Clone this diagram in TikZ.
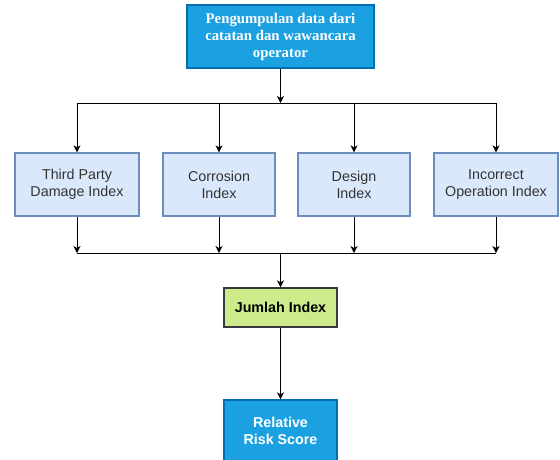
\documentclass[tikz,border=0pt]{standalone}
\usepackage{fontspec}
\setmainfont{Liberation Sans}
\newfontfamily\serifbold{Liberation Serif}
\usetikzlibrary{arrows.meta}
\definecolor{bluefill}{HTML}{1BA1E2}
\definecolor{bluedraw}{HTML}{006EAF}
\definecolor{lightfill}{HTML}{DAE8FC}
\definecolor{lightdraw}{HTML}{6C8EBF}
\definecolor{greenfill}{HTML}{CDEB8B}
\definecolor{greendraw}{HTML}{36393D}
\definecolor{txt}{HTML}{333333}
\begin{document}
\begin{tikzpicture}[x=1pt,y=-1pt,
  box/.style={draw, line width=1.3pt, inner sep=2pt, align=center, minimum height=63pt},
  topbox/.style={box, fill=bluefill, draw=bluedraw, text=white, font=\serifbold\bfseries\fontsize{14.8}{17}\selectfont, minimum width=187pt},
  idxbox/.style={box, fill=lightfill, draw=lightdraw, text=txt, font=\fontsize{14.3}{17}\selectfont},
  sumbox/.style={box, fill=greenfill, draw=greendraw, text=black, font=\bfseries\fontsize{14.3}{17}\selectfont, minimum width=113pt, minimum height=39pt},
  resbox/.style={box, fill=bluefill, draw=bluedraw, text=white, font=\bfseries\fontsize{14.3}{17}\selectfont, minimum width=113pt, minimum height=62pt},
  arr/.style={-{Stealth[length=7pt,width=7pt,inset=2pt]}, line width=0.9pt},
  ln/.style={line width=0.9pt}]
\useasboundingbox (0,0) rectangle (560,459);
\begin{scope}
\clip (0,0) rectangle (560,459);
\node[topbox] (top) at (280.5,36.5) {Pengumpulan data dari\\catatan dan wawancara\\operator};
\node[idxbox, minimum width=124pt] (b1) at (77,184.5) {Third Party\\Damage Index};
\node[idxbox, minimum width=112pt] (b2) at (219,184.5) {Corrosion\\Index};
\node[idxbox, minimum width=112pt] (b3) at (354,184.5) {Design\\Index};
\node[idxbox, minimum width=124pt] (b4) at (496,184.5) {Incorrect\\Operation Index};
\node[sumbox] (sum) at (280.5,307.5) {Jumlah Index};
\node[resbox] (res) at (280.5,431) {Relative\\Risk Score};
\coordinate (ct) at (280.5,103);
\coordinate (cb) at (280.5,253);
\draw[arr] (top.south) -- (ct);
\draw[ln] (b1.north |- ct) -- (b4.north |- ct);
\foreach \b in {b1,b2,b3,b4}{
  \draw[arr] (\b.north |- ct) -- (\b.north);
  \draw[arr] (\b.south) -- (\b.south |- cb);
}
\draw[ln] (b1.south |- cb) -- (b4.south |- cb);
\draw[arr] (cb) -- (sum.north);
\draw[arr] (sum.south) -- (res.north);
\end{scope}
\end{tikzpicture}
\end{document}
